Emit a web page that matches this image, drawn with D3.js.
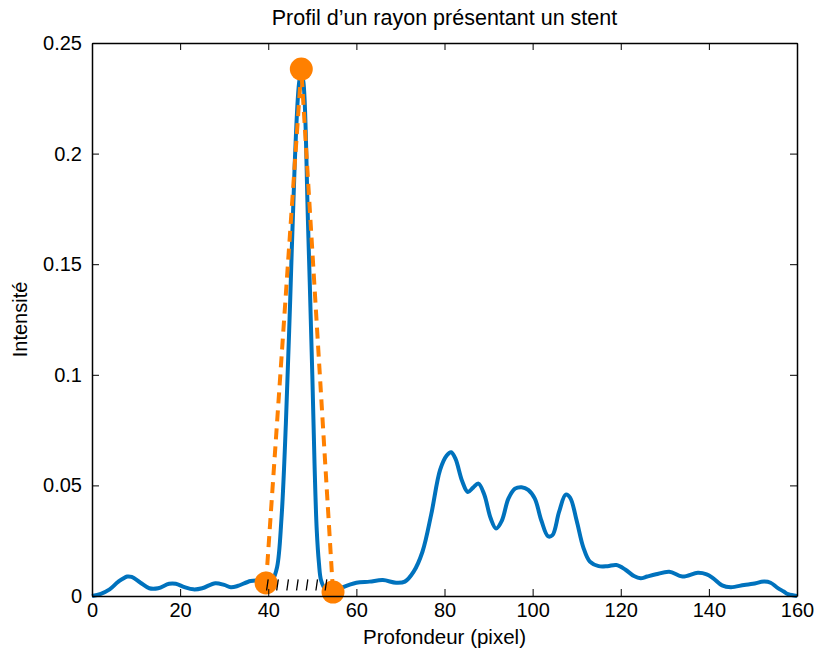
<!DOCTYPE html>
<html>
<head>
<meta charset="utf-8">
<script src="https://cdn.jsdelivr.net/npm/d3@7"></script>
<style>
  body { margin: 0; background: #fff; }
  svg { display: block; font-family: "Liberation Sans", Arial, sans-serif; }
</style>
</head>
<body>
<svg id="chart" width="816" height="658"></svg>
<script>
const titleText = "Profil d\u2019un rayon présentant un stent";
const xLabel = "Profondeur (pixel)";
const yLabel = "Intensité";
const xTicks = [0, 20, 40, 60, 80, 100, 120, 140, 160];
const yTicks = [0, 0.05, 0.1, 0.15, 0.2, 0.25];
const yTickLabels = ["0", "0.05", "0.1", "0.15", "0.2", "0.25"];

const profileX = [0, 2, 4, 6, 8, 9, 11, 13, 15, 17.5, 19, 21, 23, 25, 28, 30, 31.5, 33, 36, 38, 40, 41, 42, 43, 44, 45, 46, 47, 47.5, 48, 49, 50, 50.5, 51, 51.5, 52, 53, 55, 57, 60, 63, 66, 69, 71, 73, 75, 77, 79, 80.5, 81.5, 82.5, 84, 85.3, 86.5, 87.7, 89, 90.5, 91.7, 93, 94.5, 96, 97.5, 99, 100.5, 102, 103.5, 104.5, 106, 107.5, 108.5, 110, 111.5, 113, 115, 117, 119, 121, 123, 124.5, 126, 128, 131, 134, 137.5, 139.5, 141, 143, 145, 148, 150, 152.5, 154, 155.5, 157, 158, 160];
const profileY = [0, 0.001, 0.003, 0.0065, 0.0088, 0.0086, 0.006, 0.0035, 0.0035, 0.0055, 0.0055, 0.004, 0.003, 0.0035, 0.0058, 0.005, 0.004, 0.0045, 0.0068, 0.007, 0.0065, 0.0075, 0.013, 0.035, 0.078, 0.135, 0.195, 0.232, 0.237, 0.232, 0.17, 0.10, 0.06, 0.03, 0.015, 0.007, 0.003, 0.002, 0.004, 0.006, 0.0065, 0.0072, 0.006, 0.0065, 0.011, 0.02, 0.037, 0.057, 0.0635, 0.065, 0.062, 0.052, 0.047, 0.049, 0.0508, 0.046, 0.035, 0.0305, 0.034, 0.044, 0.0485, 0.0492, 0.048, 0.044, 0.034, 0.027, 0.0275, 0.038, 0.0458, 0.0445, 0.034, 0.022, 0.0155, 0.0135, 0.0135, 0.014, 0.012, 0.009, 0.008, 0.0088, 0.0098, 0.011, 0.0088, 0.0105, 0.0098, 0.008, 0.0048, 0.004, 0.005, 0.0055, 0.0065, 0.006, 0.0038, 0.002, 0.0008, 0];

const markerX = [39.5, 47.5, 54.7];
const markerY = [0.0059, 0.2382, 0.0018];

const hatchX = [39.8, 42.1, 44.4, 46.6, 48.8, 51.0, 53.1];
const hatchY0 = 0.0025;
const hatchY1 = 0.0075;

const W = 816, H = 658;
const m = { left: 92, right: 19, top: 43, bottom: 62 };
const FONT = "'Liberation Sans', Arial, sans-serif";
const svg = d3.select("#chart");
const x = d3.scaleLinear().domain([0, 160]).range([m.left, W - m.right]);
const y = d3.scaleLinear().domain([0, 0.25]).range([H - m.bottom, m.top]);

const g = svg.append("g");

// blue profile
const profile = profileX.map((v, i) => [v, profileY[i]]);
g.append("path")
  .datum(profile)
  .attr("fill", "none")
  .attr("stroke", "#0072BD")
  .attr("stroke-width", 4)
  .attr("stroke-linejoin", "round")
  .attr("d", d3.line().x(d => x(d[0])).y(d => y(d[1])).curve(d3.curveCatmullRom.alpha(0.5)));

// orange dashed triangle
const tri = markerX.map((v, i) => [v, markerY[i]]);
g.append("path")
  .datum(tri)
  .attr("fill", "none")
  .attr("stroke", "#FF8000")
  .attr("stroke-width", 4)
  .attr("stroke-dasharray", "11,7")
  .attr("d", d3.line().x(d => x(d[0])).y(d => y(d[1])));

g.selectAll("circle.mk")
  .data(tri)
  .join("circle")
  .attr("class", "mk")
  .attr("cx", d => x(d[0]))
  .attr("cy", d => y(d[1]))
  .attr("r", 11.5)
  .attr("fill", "#FF8000");

// hatch marks
g.selectAll("line.hatch")
  .data(hatchX)
  .join("line")
  .attr("class", "hatch")
  .attr("x1", d => x(d) - 0.8)
  .attr("y1", y(hatchY0))
  .attr("x2", d => x(d) + 0.8)
  .attr("y2", y(hatchY1))
  .attr("stroke", "#000")
  .attr("stroke-width", 1.3);

// axes box
const axG = svg.append("g");
const tickLen = 7;
const xAxisB = d3.axisBottom(x).tickValues(xTicks).tickSizeInner(-tickLen).tickSizeOuter(0).tickPadding(7);
const xAxisT = d3.axisTop(x).tickValues(xTicks).tickSizeInner(-tickLen).tickSizeOuter(0).tickFormat("");
const yAxisL = d3.axisLeft(y).tickValues(yTicks).tickSizeInner(-tickLen).tickSizeOuter(0).tickPadding(10)
  .tickFormat((d, i) => yTickLabels[i]);
const yAxisR = d3.axisRight(y).tickValues(yTicks).tickSizeInner(-tickLen).tickSizeOuter(0).tickFormat("");

function style(sel) {
  sel.attr("font-family", FONT).attr("font-size", 20);
  sel.select(".domain").attr("stroke", "#000").attr("stroke-width", 1.5);
  sel.selectAll(".tick line").attr("stroke", "#000").attr("stroke-width", 1);
  sel.selectAll(".tick text").attr("fill", "#000");
}
axG.append("g").attr("transform", `translate(0,${H - m.bottom})`).call(xAxisB).call(style);
axG.append("g").attr("transform", `translate(0,${m.top})`).call(xAxisT).call(style);
axG.append("g").attr("transform", `translate(${m.left},0)`).call(yAxisL).call(style);
axG.append("g").attr("transform", `translate(${W - m.right},0)`).call(yAxisR).call(style);

svg.append("text")
  .attr("x", (m.left + W - m.right) / 2)
  .attr("y", 25)
  .attr("text-anchor", "middle")
  .attr("font-family", FONT)
  .attr("font-size", 21.5)
  .text(titleText);

svg.append("text")
  .attr("x", (m.left + W - m.right) / 2)
  .attr("y", 644)
  .attr("text-anchor", "middle")
  .attr("font-family", FONT)
  .attr("font-size", 20.5)
  .text(xLabel);

svg.append("text")
  .attr("transform", `translate(27,${(m.top + H - m.bottom) / 2}) rotate(-90)`)
  .attr("text-anchor", "middle")
  .attr("font-family", FONT)
  .attr("font-size", 20)
  .text(yLabel);
</script>
</body>
</html>
